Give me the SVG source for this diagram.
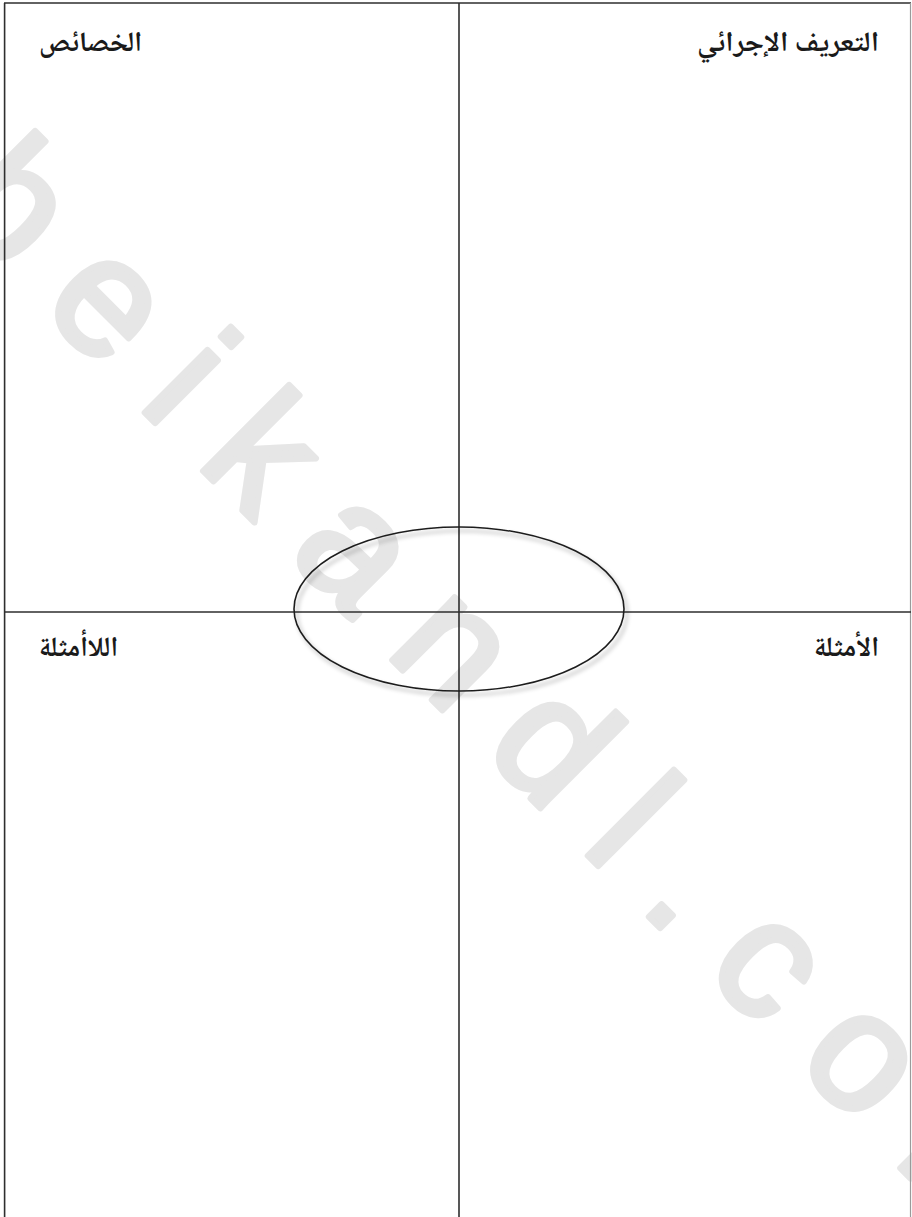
<svg xmlns="http://www.w3.org/2000/svg" width="912" height="1217" viewBox="0 0 912 1217">
  <style>
    .frame { stroke: #2e2e2e; stroke-width: 1.6; fill: none; }
    .label { font-family: "Noto Naskh Arabic", "Noto Sans Arabic", "DejaVu Sans", sans-serif; font-weight: bold; font-size: 28px; fill: #1a1a1a; text-anchor: end; }
    .wm { font-family: "Liberation Sans", Arial, sans-serif; font-size: 168px; fill: #e6e6e6; stroke: #e6e6e6; stroke-width: 6; stroke-linejoin: round; }
  </style>
  <defs>
    <filter id="shadow" x="-10%" y="-20%" width="125%" height="145%">
      <feDropShadow dx="3" dy="4" stdDeviation="2" flood-color="#000000" flood-opacity="0.35"/>
    </filter>
  </defs>
  <rect x="0" y="0" width="912" height="1217" fill="#ffffff"/>
  <g id="watermark">
    <text class="wm" x="106" y="189.5" letter-spacing="45" transform="rotate(45)">beikandl.com</text>
  </g>
  <g id="connectors">
    <line class="frame" x1="4" y1="3" x2="911" y2="3"/>
    <line class="frame" x1="4.6" y1="3" x2="4.6" y2="1217"/>
    <line x1="910.5" y1="3" x2="910.5" y2="1217" stroke="#9a9a9a" stroke-width="1.2"/>
    <line class="frame" x1="459" y1="3" x2="459" y2="1217"/>
    <line class="frame" x1="4.6" y1="612" x2="911" y2="612"/>
  </g>
  <g id="center-oval">
    <ellipse cx="459" cy="609" rx="165" ry="82" fill="none" stroke="#1e1e1e" stroke-width="1.6" filter="url(#shadow)"/>
  </g>
  <g id="node-definition">
    <text class="label" x="879" y="51" textLength="182" lengthAdjust="spacingAndGlyphs">التعريف الإجرائي</text>
  </g>
  <g id="node-characteristics">
    <text class="label" x="142" y="51" textLength="103" lengthAdjust="spacingAndGlyphs">الخصائص</text>
  </g>
  <g id="node-examples">
    <text class="label" x="879" y="656" textLength="65" lengthAdjust="spacingAndGlyphs">الأمثلة</text>
  </g>
  <g id="node-nonexamples">
    <text class="label" x="118" y="656" textLength="79" lengthAdjust="spacingAndGlyphs">اللاأمثلة</text>
  </g>
</svg>
